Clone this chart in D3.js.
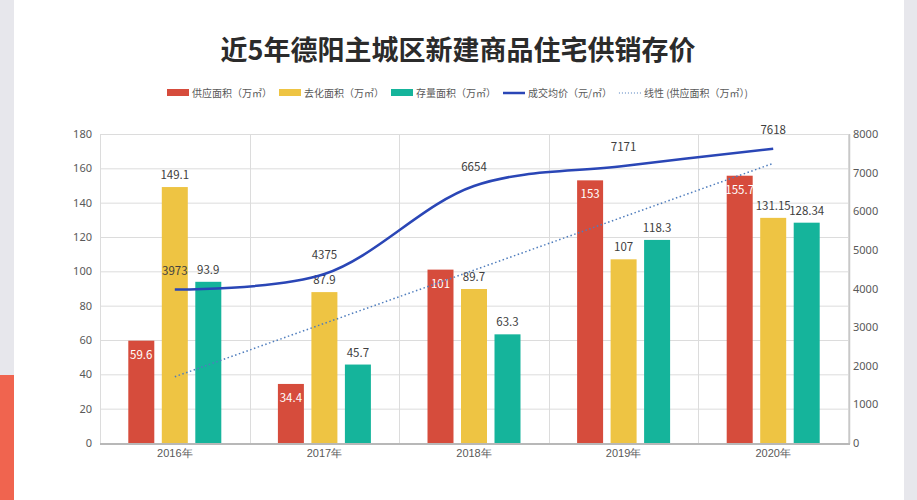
<!DOCTYPE html>
<html><head><meta charset="utf-8">
<script src="https://cdn.jsdelivr.net/npm/d3@7"></script>
<style>
html,body{margin:0;padding:0;background:#fff;}
svg{display:block;font-family:"Microsoft YaHei","Noto Sans CJK SC","Noto Sans",sans-serif;}
</style></head>
<body><svg id="c" width="917" height="500"></svg>
<script>
const categories = ["2016年","2017年","2018年","2019年","2020年"];
const supply = [59.6, 34.4, 101, 153, 155.7];
const sold = [149.1, 87.9, 89.7, 107, 131.15];
const stock = [93.9, 45.7, 63.3, 118.3, 128.34];
const price = [3973, 4375, 6654, 7171, 7618];
const trendSupply = [38.6, 69.7, 100.7, 131.8, 162.9];
const leftTicks = [0,20,40,60,80,100,120,140,160,180];
const rightTicks = [0,1000,2000,3000,4000,5000,6000,7000,8000];
const seriesNames = ["供应面积（万㎡）","去化面积（万㎡）","存量面积（万㎡）"];
const lineName = "成交均价（元/㎡）";
const trendName = "线性 (供应面积（万㎡）)";
const title = "近5年德阳主城区新建商品住宅供销存价";

const colors = ["#d64c3c","#eec443","#15b49b"];
const lineColor = "#2a46b6";
const trendColor = "#4f7dbd";
const textColor = "#595959";

const svg = d3.select("#c");
// side strips
svg.append("rect").attr("x",0).attr("y",0).attr("width",14).attr("height",500).attr("fill","#e7e7ec");
svg.append("rect").attr("x",0).attr("y",375).attr("width",14).attr("height",125).attr("fill","#f0644f");
svg.append("rect").attr("x",904).attr("y",0).attr("width",13).attr("height",500).attr("fill","#e7e7ec");

const L=100, R=848, T=134, B=443;
const x = d3.scaleBand().domain(categories).range([L,R]).padding(0);
const y = d3.scaleLinear().domain([0,180]).range([B,T]);
const y2 = d3.scaleLinear().domain([0,8000]).range([B,T]);
const bw = x.bandwidth();
const groupW = 93;
const xs = d3.scaleBand().domain([0,1,2]).range([(bw-groupW)/2,(bw+groupW)/2]).paddingInner(0.224);

// title
svg.append("text").attr("x",458).attr("y",60).attr("text-anchor","middle")
  .attr("font-size",27).attr("font-weight","bold").attr("fill","#2b2b2b").text(title);

// gridlines
const g = svg.append("g");
g.selectAll(".hg").data(leftTicks).join("line")
  .attr("x1",L).attr("x2",R).attr("y1",d=>y(d)+0.5).attr("y2",d=>y(d)+0.5)
  .attr("stroke","#dcdcdc").attr("stroke-width",1);
const vlines = categories.map(c=>x(c)).concat([R]);
g.selectAll(".vg").data(vlines).join("line")
  .attr("x1",d=>Math.round(d)+0.5).attr("x2",d=>Math.round(d)+0.5).attr("y1",T).attr("y2",B)
  .attr("stroke","#dcdcdc").attr("stroke-width",1);
g.append("line").attr("x1",R+1.5).attr("x2",R+1.5).attr("y1",T).attr("y2",B+1).attr("stroke","#c8c8c8").attr("stroke-width",1.5);

// axes
const ya = d3.axisLeft(y).tickValues(leftTicks).tickSize(0).tickPadding(0);
const yag = svg.append("g").attr("transform",`translate(${L-8},0)`).call(ya);
yag.select(".domain").remove();
yag.selectAll("text").attr("font-size",11).attr("fill",textColor).attr("font-family","'Noto Sans','Liberation Sans',sans-serif");

const ya2 = d3.axisRight(y2).tickValues(rightTicks).tickFormat(d3.format("d")).tickSize(0).tickPadding(0);
const ya2g = svg.append("g").attr("transform",`translate(${R+5},0)`).call(ya2);
ya2g.select(".domain").remove();
ya2g.selectAll("text").attr("font-size",11).attr("fill",textColor).attr("font-family","'Noto Sans','Liberation Sans',sans-serif");

// bars
const seriesData = [supply, sold, stock];
seriesData.forEach((vals,si)=>{
  svg.append("g").selectAll("rect").data(vals).join("rect")
    .attr("x",(d,i)=>x(categories[i])+xs(si))
    .attr("y",d=>y(d))
    .attr("width",xs.bandwidth())
    .attr("height",d=>B-y(d))
    .attr("fill",colors[si]);
});

// bottom axis line
svg.append("line").attr("x1",L).attr("x2",R+2).attr("y1",B+1).attr("y2",B+1).attr("stroke","#b8b8b8").attr("stroke-width",2);
const xa = d3.axisBottom(x).tickSize(0).tickPadding(0);
const xag = svg.append("g").attr("transform",`translate(0,${B+4})`).call(xa);
xag.select(".domain").remove();
xag.selectAll("text").attr("font-size",11).attr("fill",textColor).attr("dy","0.9em");

// bar labels
svg.append("g").selectAll("text").data(supply).join("text")
  .attr("x",(d,i)=>x(categories[i])+xs(0)+xs.bandwidth()/2)
  .attr("y",d=>y(d)+18).attr("text-anchor","middle")
  .attr("font-size",11.5).attr("fill","#fff").text(d=>d);
[sold, stock].forEach((vals,k)=>{
  const si=k+1;
  svg.append("g").selectAll("text").data(vals).join("text")
    .attr("x",(d,i)=>x(categories[i])+xs(si)+xs.bandwidth()/2)
    .attr("y",d=>y(d)-8).attr("text-anchor","middle")
    .attr("font-size",11.5).attr("fill","#404040").text(d=>d);
});

// trend line
const cx = c=>x(c)+bw/2;
svg.append("path").datum(trendSupply)
  .attr("d",d3.line().x((d,i)=>cx(categories[i])).y(d=>y(d)))
  .attr("fill","none").attr("stroke",trendColor).attr("stroke-width",1.5).attr("stroke-dasharray","1.5,2.5");

// price line
svg.append("path").datum(price)
  .attr("d",d3.line().x((d,i)=>cx(categories[i])).y(d=>y2(d)).curve(d3.curveCatmullRom.alpha(0.5)))
  .attr("fill","none").attr("stroke",lineColor).attr("stroke-width",2.5);
svg.append("g").selectAll("text").data(price).join("text")
  .attr("x",(d,i)=>cx(categories[i])).attr("y",d=>y2(d)-15).attr("text-anchor","middle")
  .attr("font-size",11.5).attr("fill","#404040").text(d=>d);

// legend (sequential layout)
const lg = svg.append("g").attr("font-size",10).attr("fill",textColor);
const ly = 93;
const items = [
  {type:"rect",color:colors[0],text:seriesNames[0]},
  {type:"rect",color:colors[1],text:seriesNames[1]},
  {type:"rect",color:colors[2],text:seriesNames[2]},
  {type:"line",color:lineColor,text:lineName},
  {type:"dot",color:trendColor,text:trendName}
];
let cur = 167;
items.forEach(it=>{
  if(it.type==="rect"){
    lg.append("rect").attr("x",cur).attr("y",ly-4).attr("width",22).attr("height",7).attr("fill",it.color);
  } else if(it.type==="line"){
    lg.append("line").attr("x1",cur).attr("x2",cur+22).attr("y1",ly).attr("y2",ly).attr("stroke",it.color).attr("stroke-width",2.5);
  } else {
    lg.append("line").attr("x1",cur).attr("x2",cur+22).attr("y1",ly).attr("y2",ly).attr("stroke",it.color).attr("stroke-width",1.2).attr("stroke-dasharray","1,2");
  }
  const t = lg.append("text").attr("x",cur+25).attr("y",ly+3.5).attr("fill",textColor).text(it.text);
  const w = t.node().getComputedTextLength();
  cur += 25 + w + 7;
});
</script></body></html>
